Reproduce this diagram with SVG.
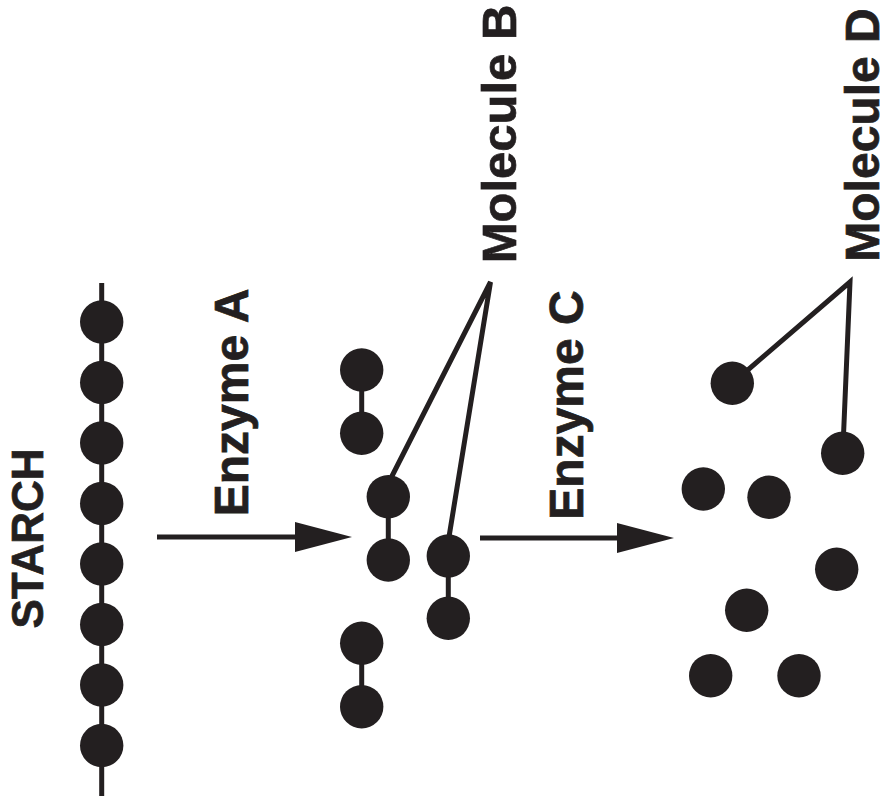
<svg xmlns="http://www.w3.org/2000/svg" width="886" height="796" viewBox="0 0 886 796">
  <defs>
    <style>
      .unit { fill: #231f20; }
      .bond { stroke: #231f20; stroke-width: 5; fill: none; }
      .conn { stroke: #231f20; stroke-width: 5; fill: none; }
      .lbl { font-family: "Liberation Sans", Arial, Helvetica, sans-serif; font-weight: bold; fill: #231f20; stroke: #231f20; stroke-width: 0.7; text-anchor: middle; }
    </style>
    <marker id="head" markerUnits="userSpaceOnUse" markerWidth="58" markerHeight="30" refX="0" refY="15" orient="auto" overflow="visible">
      <path d="M0,0 L57,15 L0,30 Z" fill="#231f20"/>
    </marker>
  </defs>

  <rect width="886" height="796" fill="#ffffff"/>

  <!-- labels -->
  <g id="label-starch"><text class="lbl" font-size="44" transform="translate(43,538.5) rotate(-90)">STARCH</text></g>
  <g id="label-enzyme-a"><text class="lbl" font-size="48" transform="translate(248,402.5) rotate(-90)">Enzyme A</text></g>
  <g id="label-enzyme-c"><text class="lbl" font-size="48" transform="translate(583,405) rotate(-90)">Enzyme C</text></g>
  <g id="label-molecule-b"><text class="lbl" font-size="49" transform="translate(516,134) rotate(-90)">Molecule B</text></g>
  <g id="label-molecule-d"><text class="lbl" font-size="48" transform="translate(879,135) rotate(-90)">Molecule D</text></g>

  <!-- connectors: reaction arrows and label pointers -->
  <g id="connectors">
    <line class="conn" x1="157" y1="537" x2="295" y2="537" marker-end="url(#head)"/>
    <line class="conn" x1="480" y1="538" x2="617" y2="538" marker-end="url(#head)"/>
    <polyline class="conn" points="390,480 490.5,282 448.5,540" stroke-linejoin="miter"/>
    <polyline class="conn" points="742,375 850,282 843.3,440" stroke-linejoin="miter"/>
  </g>

  <!-- starch chain -->
  <g id="starch">
    <line class="bond" x1="101.7" y1="283" x2="101.7" y2="796"/>
    <circle class="unit" cx="101.7" cy="322" r="21.7"/>
    <circle class="unit" cx="101.7" cy="382.5" r="21.7"/>
    <circle class="unit" cx="101.7" cy="443" r="21.7"/>
    <circle class="unit" cx="101.7" cy="503.5" r="21.7"/>
    <circle class="unit" cx="101.7" cy="564" r="21.7"/>
    <circle class="unit" cx="101.7" cy="624.5" r="21.7"/>
    <circle class="unit" cx="101.7" cy="685" r="21.7"/>
    <circle class="unit" cx="101.7" cy="745.5" r="21.7"/>
  </g>

  <!-- two-unit fragments (Molecule B) -->
  <g id="fragment-1">
    <line class="bond" x1="361.7" y1="370" x2="361.7" y2="433.3"/>
    <circle class="unit" cx="361.7" cy="370" r="21.7"/>
    <circle class="unit" cx="361.7" cy="433.3" r="21.7"/>
  </g>
  <g id="fragment-2">
    <line class="bond" x1="388.3" y1="496.7" x2="388.3" y2="560"/>
    <circle class="unit" cx="388.3" cy="496.7" r="21.7"/>
    <circle class="unit" cx="388.3" cy="560" r="21.7"/>
  </g>
  <g id="fragment-3">
    <line class="bond" x1="448.3" y1="556" x2="448.3" y2="618.3"/>
    <circle class="unit" cx="448.3" cy="556" r="21.7"/>
    <circle class="unit" cx="448.3" cy="618.3" r="21.7"/>
  </g>
  <g id="fragment-4">
    <line class="bond" x1="361.7" y1="643.3" x2="361.7" y2="706.7"/>
    <circle class="unit" cx="361.7" cy="643.3" r="21.7"/>
    <circle class="unit" cx="361.7" cy="706.7" r="21.7"/>
  </g>

  <!-- single units (Molecule D) -->
  <g id="unit-1"><circle class="unit" cx="732.3" cy="383.3" r="21.7"/></g>
  <g id="unit-2"><circle class="unit" cx="842.7" cy="453.3" r="21.7"/></g>
  <g id="unit-3"><circle class="unit" cx="703.3" cy="489" r="21.7"/></g>
  <g id="unit-4"><circle class="unit" cx="769" cy="497.3" r="21.7"/></g>
  <g id="unit-5"><circle class="unit" cx="836.7" cy="569.3" r="21.7"/></g>
  <g id="unit-6"><circle class="unit" cx="746.7" cy="610.3" r="21.7"/></g>
  <g id="unit-7"><circle class="unit" cx="710.7" cy="675.7" r="21.7"/></g>
  <g id="unit-8"><circle class="unit" cx="799" cy="675.7" r="21.7"/></g>
</svg>
